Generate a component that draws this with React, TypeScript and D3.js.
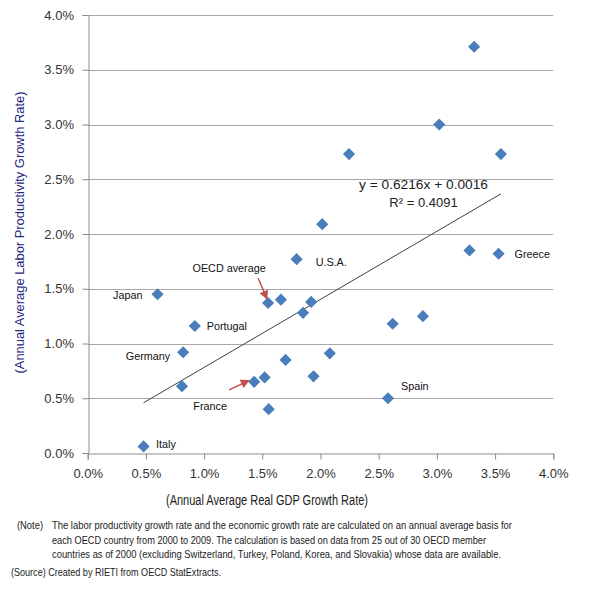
import { useEffect, useRef } from 'react';
import * as d3 from 'd3';

// Annual average real GDP growth (x) vs labor productivity growth (y), 2000-2009
const gdpGrowth = [
  0.0332, 0.0302, 0.0355, 0.02245, 0.02015, 0.0328, 0.0353, 0.01795, 0.0060,
  0.0155, 0.0166, 0.0192, 0.0185, 0.0262, 0.0288, 0.0092, 0.0082, 0.0208,
  0.0170, 0.0194, 0.0152, 0.0143, 0.0081, 0.0258, 0.01555, 0.0048,
];
const productivityGrowth = [
  0.0371, 0.0300, 0.0273, 0.0273, 0.0209, 0.0185, 0.0182, 0.0177, 0.0145,
  0.0137, 0.0140, 0.0138, 0.0128, 0.0118, 0.0125, 0.0116, 0.0092, 0.0091,
  0.0085, 0.0070, 0.0069, 0.0065, 0.0061, 0.0050, 0.0040, 0.0006,
];
const pointNames = [
  '', '', '', '', '', '', 'Greece', 'U.S.A.', 'Japan',
  'OECD average', '', '', '', '', '', 'Portugal', 'Germany', '',
  '', '', '', 'France', '', 'Spain', '', 'Italy',
];

const xTicks = [0, 0.005, 0.01, 0.015, 0.02, 0.025, 0.03, 0.035, 0.04];
const yTicks = [0, 0.005, 0.01, 0.015, 0.02, 0.025, 0.03, 0.035, 0.04];

// trend line as printed on the chart
const trendSlope = 0.6216;
const trendIntercept = 0.0016;
const trendR2 = 0.4091;

const noteLines = [
  'The labor productivity growth rate and the economic growth rate are calculated on an annual average basis for',
  'each OECD country from 2000 to 2009. The calculation is based on data from 25 out of 30 OECD member',
  'countries as of 2000 (excluding Switzerland, Turkey, Poland, Korea, and Slovakia) whose data are available.',
];
const noteWidths = [460, 434, 449];

// label placement relative to the point (px)
const labelOffsets: Record<string, { dx: number; dy: number; anchor: string }> = {
  Greece: { dx: 16, dy: 4, anchor: 'start' },
  'U.S.A.': { dx: 19, dy: 6.5, anchor: 'start' },
  Japan: { dx: -15, dy: 4.5, anchor: 'end' },
  'OECD average': { dx: -39, dy: -31, anchor: 'middle' },
  Portugal: { dx: 12, dy: 4.5, anchor: 'start' },
  Germany: { dx: -13, dy: 8, anchor: 'end' },
  France: { dx: -44, dy: 28, anchor: 'middle' },
  Spain: { dx: 13, dy: -8, anchor: 'start' },
  Italy: { dx: 12.5, dy: 2, anchor: 'start' },
};

// red pointer arrows: from offset -> to offset, relative to the point
const arrows: Record<string, { x1: number; y1: number; x2: number; y2: number }> = {
  'OECD average': { x1: -10, y1: -25, x2: -1.5, y2: -5 },
  France: { x1: -25, y1: 8, x2: -6, y2: -1 },
};

const App = () => {
  const svgRef = useRef<SVGSVGElement | null>(null);

  useEffect(() => {
    if (!svgRef.current) return;
    const svg = d3.select(svgRef.current);
    svg.selectAll('*').remove();

    const font = 'Arial, "Liberation Sans", sans-serif';
    const left = 87.7;
    const right = 553.3;
    const top = 15;
    const bottom = 453;

    const x = d3.scaleLinear().domain([0, 0.04]).range([left, right]);
    const y = d3.scaleLinear().domain([0, 0.04]).range([bottom, top]);
    const pct = d3.format('.1%');

    svg.append('defs')
      .append('marker')
      .attr('id', 'arrowhead')
      .attr('viewBox', '0 0 10 10')
      .attr('refX', 8)
      .attr('refY', 5)
      .attr('markerWidth', 6)
      .attr('markerHeight', 6)
      .attr('orient', 'auto')
      .append('path')
      .attr('d', 'M0,0 L10,5 L0,10 z')
      .attr('fill', '#c0504d');

    // gridlines
    svg.append('g')
      .selectAll('line')
      .data(yTicks.filter((d) => d > 0))
      .join('line')
      .attr('x1', left)
      .attr('x2', right)
      .attr('y1', (d) => Math.round(y(d)) + 0.5)
      .attr('y2', (d) => Math.round(y(d)) + 0.5)
      .attr('stroke', '#a8a8a8')
      .attr('stroke-width', 1);

    // y axis
    const yAxis = svg.append('g')
      .attr('transform', `translate(${Math.round(left) + 0.5},0)`)
      .call(d3.axisLeft(y).tickValues(yTicks).tickFormat((d) => pct(d as number)).tickSize(6).tickPadding(8.5));
    yAxis.select('.domain').attr('stroke', '#8c8c8c');
    yAxis.selectAll('.tick line').attr('stroke', '#8c8c8c');
    yAxis.selectAll('text')
      .attr('font-family', font)
      .attr('font-size', 13)
      .attr('fill', '#333');

    // x axis
    const xAxis = svg.append('g')
      .attr('transform', `translate(0,${Math.round(bottom) + 0.5})`)
      .call(d3.axisBottom(x).tickValues(xTicks).tickFormat((d) => pct(d as number)).tickSize(6).tickPadding(9.5));
    xAxis.select('.domain').attr('stroke', '#8c8c8c');
    xAxis.selectAll('.tick line').attr('stroke', '#8c8c8c');
    xAxis.selectAll('text')
      .attr('font-family', font)
      .attr('font-size', 13)
      .attr('fill', '#333');

    // trend line over the data range
    const [xMin, xMax] = d3.extent(gdpGrowth) as [number, number];
    svg.append('line')
      .attr('x1', x(xMin))
      .attr('y1', y(trendSlope * xMin + trendIntercept))
      .attr('x2', x(xMax))
      .attr('y2', y(trendSlope * xMax + trendIntercept))
      .attr('stroke', '#404040')
      .attr('stroke-width', 1);

    const points = gdpGrowth.map((g, i) => ({ g, p: productivityGrowth[i], name: pointNames[i] }));

    // diamonds
    svg.append('g')
      .selectAll('path')
      .data(points)
      .join('path')
      .attr('d', d3.symbol().type(d3.symbolSquare).size(74) as any)
      .attr('transform', (d) => `translate(${x(d.g)},${y(d.p)}) rotate(45)`)
      .attr('fill', '#4a7ebb');

    // arrows
    points.filter((d) => arrows[d.name]).forEach((d) => {
      const a = arrows[d.name];
      svg.append('line')
        .attr('x1', x(d.g) + a.x1)
        .attr('y1', y(d.p) + a.y1)
        .attr('x2', x(d.g) + a.x2)
        .attr('y2', y(d.p) + a.y2)
        .attr('stroke', '#c0504d')
        .attr('stroke-width', 1.5)
        .attr('marker-end', 'url(#arrowhead)');
    });

    // point labels
    svg.append('g')
      .selectAll('text')
      .data(points.filter((d) => d.name))
      .join('text')
      .attr('x', (d) => x(d.g) + labelOffsets[d.name].dx)
      .attr('y', (d) => y(d.p) + labelOffsets[d.name].dy)
      .attr('text-anchor', (d) => labelOffsets[d.name].anchor)
      .attr('font-family', font)
      .attr('font-size', 10.8)
      .attr('fill', '#111')
      .text((d) => d.name);

    // trend equation
    svg.append('text')
      .attr('x', 423.5)
      .attr('y', 189)
      .attr('text-anchor', 'middle')
      .attr('font-family', font)
      .attr('font-size', 13)
      .attr('textLength', 129)
      .attr('lengthAdjust', 'spacingAndGlyphs')
      .attr('fill', '#222')
      .text(`y = ${trendSlope}x + ${trendIntercept}`);
    svg.append('text')
      .attr('x', 423.5)
      .attr('y', 207)
      .attr('text-anchor', 'middle')
      .attr('font-family', font)
      .attr('font-size', 13)
      .attr('fill', '#222')
      .text(`R\u00b2 = ${trendR2}`);

    // axis titles
    svg.append('text')
      .attr('transform', 'translate(23.5,232.5) rotate(-90)')
      .attr('text-anchor', 'middle')
      .attr('font-family', font)
      .attr('font-size', 13.5)
      .attr('textLength', 282)
      .attr('lengthAdjust', 'spacingAndGlyphs')
      .attr('fill', '#262680')
      .text('(Annual Average Labor Productivity Growth Rate)');
    svg.append('text')
      .attr('x', 267)
      .attr('y', 505)
      .attr('text-anchor', 'middle')
      .attr('font-family', font)
      .attr('font-size', 14)
      .attr('textLength', 202)
      .attr('lengthAdjust', 'spacingAndGlyphs')
      .attr('fill', '#222')
      .text('(Annual Average Real GDP Growth Rate)');

    // note and source
    svg.append('text')
      .attr('x', 17)
      .attr('y', 529)
      .attr('font-family', font)
      .attr('font-size', 11)
      .attr('textLength', 26)
      .attr('lengthAdjust', 'spacingAndGlyphs')
      .attr('fill', '#222')
      .text('(Note)');
    svg.append('g')
      .selectAll('text')
      .data(noteLines)
      .join('text')
      .attr('x', 52)
      .attr('y', (_, i) => 529 + i * 14.5)
      .attr('font-family', font)
      .attr('font-size', 11)
      .attr('textLength', (_, i) => noteWidths[i])
      .attr('lengthAdjust', 'spacingAndGlyphs')
      .attr('fill', '#222')
      .text((d) => d);
    svg.append('text')
      .attr('x', 11)
      .attr('y', 576)
      .attr('font-family', font)
      .attr('font-size', 11)
      .attr('textLength', 210)
      .attr('lengthAdjust', 'spacingAndGlyphs')
      .attr('fill', '#222')
      .text('(Source) Created by RIETI from OECD StatExtracts.');
  }, []);

  return (
    <svg
      ref={svgRef}
      width={610}
      height={602}
      style={{ position: 'absolute', left: 0, top: 0, background: '#fff', display: 'block' }}
    />
  );
};

export default App;
